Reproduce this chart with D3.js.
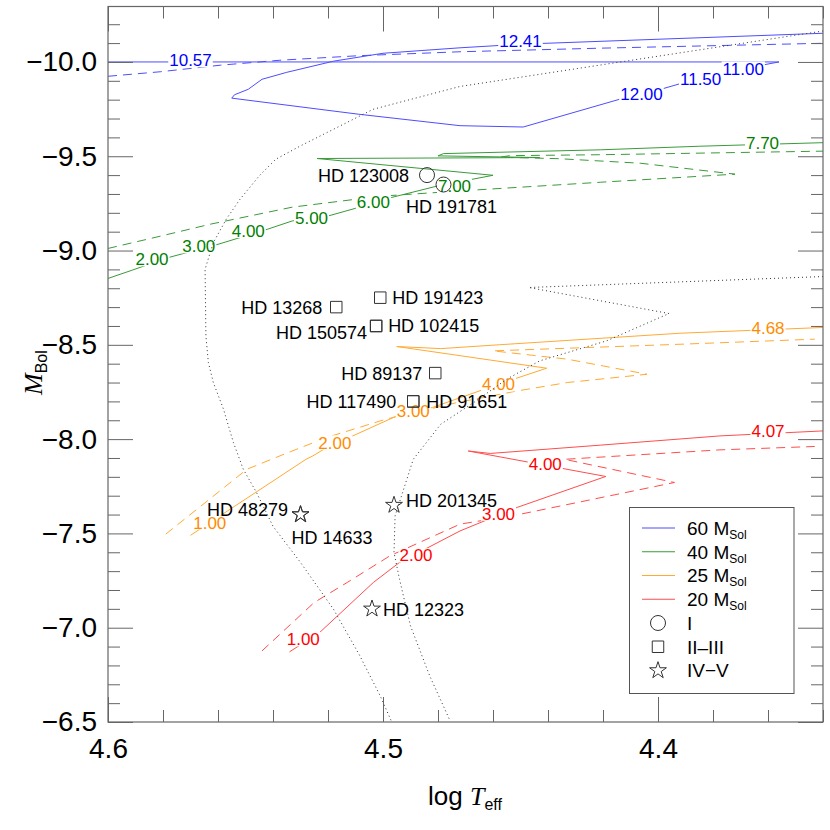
<!DOCTYPE html>
<html>
<head>
<meta charset="utf-8">
<script src="https://cdn.jsdelivr.net/npm/d3@7"></script>
<style>
body { margin: 0; background: #fff; }
svg { display: block; font-family: "Liberation Sans", Arial, Helvetica, sans-serif; }
</style>
</head>
<body>
<div id="main"></div>
<script>
// evolutionary tracks, [log Teff, M_Bol]
const t60solid = [[4.600,-10.000],[4.356,-10.000],[4.368,-9.967],[4.385,-9.914],[4.399,-9.855],[4.414,-9.802],
    [4.449,-9.655],[4.472,-9.662],[4.509,-9.723],[4.555,-9.808],[4.554,-9.826],[4.549,-9.855],[4.544,-9.908],
    [4.535,-9.945],[4.518,-10.004],[4.500,-10.046],[4.472,-10.075],[4.450,-10.094],[4.340,-10.152]];
const t60dashed = [[4.600,-9.924],[4.581,-9.948],[4.559,-9.983],[4.5375,-10.009],[4.509,-10.033],[4.472,-10.054],
    [4.421,-10.073],[4.340,-10.099]];
const t40solid = [[4.600,-8.852],[4.591,-8.897],[4.578,-8.963],[4.560,-9.033],[4.542,-9.113],[4.533,-9.157],
    [4.520,-9.183],[4.509,-9.228],[4.497,-9.281],[4.480,-9.343],[4.460,-9.399],[4.524,-9.488],[4.443,-9.493],
    [4.480,-9.502],[4.478,-9.514],[4.421,-9.534],[4.385,-9.553],[4.340,-9.572]];
const t40dashed = [[4.600,-9.011],[4.581,-9.076],[4.563,-9.139],[4.533,-9.230],[4.501,-9.288],[4.472,-9.316],
    [4.421,-9.362],[4.372,-9.405],[4.4065,-9.463],[4.436,-9.487],[4.4575,-9.495],[4.454,-9.503],[4.421,-9.508],
    [4.340,-9.527]];
const t25solid = [[4.570,-7.490],[4.528,-7.893],[4.5255,-7.911],[4.5175,-7.982],[4.511,-8.017],[4.495,-8.123],
    [4.482,-8.168],[4.458,-8.291],[4.4405,-8.376],[4.495,-8.491],[4.479,-8.480],[4.4575,-8.5005],[4.392,-8.5615],
    [4.340,-8.592]];
const t25dashed = [[4.579,-7.496],[4.5495,-7.840],[4.536,-7.920],[4.5205,-8.0085],[4.499,-8.1055],[4.473,-8.194],
    [4.451,-8.256],[4.433,-8.300],[4.404,-8.344],[4.433,-8.424],[4.460,-8.468],[4.392,-8.503],[4.343,-8.530]];
const t20solid = [[4.534,-6.872],[4.523,-6.975],[4.5035,-7.240],[4.494,-7.346],[4.472,-7.513],[4.451,-7.639],
    [4.419,-7.802],[4.469,-7.937],[4.461,-7.924],[4.421,-7.968],[4.3775,-8.017],[4.340,-8.0435]];
const t20dashed = [[4.544,-6.877],[4.525,-7.134],[4.513,-7.240],[4.4975,-7.381],[4.472,-7.549],[4.450,-7.602],
    [4.394,-7.770],[4.434,-7.893],[4.3775,-7.943],[4.343,-7.961]];

// age labels along the tracks (Myr)
const t60labels = [['10.57',4.570,-10.009],['12.41',4.450,-10.111],['12.00',4.406,-9.829],['11.50',4.3845,-9.912],['11.00',4.369,-9.965]];
const t40labels = [['2.00',4.584,-8.954],['3.00',4.567,-9.023],['4.00',4.549,-9.104],['5.00',4.526,-9.175],
    ['6.00',4.5035,-9.258],['7.00',4.474,-9.343],['7.70',4.362,-9.573]];
const t25labels = [['1.00',4.563,-7.558],['2.00',4.5175,-7.982],['3.00',4.489,-8.1495],['4.00',4.458,-8.291],['4.68',4.360,-8.588]];
const t20labels = [['1.00',4.529,-6.939],['2.00',4.488,-7.384],['3.00',4.458,-7.6045],['4.00',4.441,-7.867],['4.07',4.360,-8.042]];

// dotted boundaries
const dottedLeft = [[4.340,-10.164],[4.472,-9.870],[4.5036,-9.749],[4.518,-9.643],[4.530,-9.555],[4.539,-9.484],
    [4.545,-9.396],[4.552,-9.272],[4.557,-9.166],[4.5617,-9.042],[4.5647,-8.901],[4.5644,-8.547],[4.5635,-8.406],
    [4.5617,-8.300],[4.558,-8.1585],[4.5544,-7.982],[4.5508,-7.840],[4.546,-7.717],[4.540,-7.538],[4.530,-7.346],
    [4.518,-7.098],[4.5084,-6.8505],[4.501,-6.638],[4.497,-6.506]];
const dottedRight = [[4.340,-8.862],[4.447,-8.804],[4.396,-8.666],[4.4187,-8.521],[4.443,-8.415],[4.455,-8.318],
    [4.467,-8.194],[4.479,-8.079],[4.489,-7.893],[4.4956,-7.593],[4.496,-7.399],[4.494,-7.257],[4.490,-7.0095],
    [4.483,-6.744],[4.4756,-6.506]];

// observed stars
const starNames = ['HD 123008','HD 191781','HD 13268','HD 191423','HD 150574','HD 102415','HD 89137',
    'HD 117490','HD 91651','HD 48279','HD 14633','HD 201345','HD 12323'];
const starClass = ['I','I','II-III','II-III','II-III','II-III','II-III','II-III','II-III','IV-V','IV-V','IV-V','IV-V'];
const starLogT = [4.484,4.478,4.517,4.501,4.5025,4.5025,4.481,4.489,4.489,4.530,4.530,4.496,4.504];
const starMbol = [-9.40,-9.35,-8.70,-8.75,-8.60,-8.60,-8.35,-8.20,-8.20,-7.60,-7.60,-7.65,-7.10];

const xMajor = [4.6, 4.5, 4.4];
const yMajor = [-10.0, -9.5, -9.0, -8.5, -8.0, -7.5, -7.0, -6.5];

const masses = ['60', '40', '25', '20'];
const classes = ['I', 'II-III', 'IV-V'];
const classText = ['I', 'II\u2013III', 'IV\u2212V'];

const width = 830, height = 830;
const margin = { top: 6.5, left: 108, right: 7, bottom: 108 };

const svg = d3.select('#main').append('svg').attr('width', width).attr('height', height);

const x = d3.scaleLinear().domain([4.6, 4.34]).range([margin.left, width - margin.right]);
const y = d3.scaleLinear().domain([-6.5, -10.294]).range([height - margin.bottom, margin.top]);

const lineColor = { '60': '#4d4dff', '40': '#3a9a3a', '25': '#ffaa33', '20': '#ff4d4d' };
const textColor = { '60': '#0000ff', '40': '#008000', '25': '#ff8c00', '20': '#ff0000' };

const tracks = [
    { mass: '60', solid: t60solid, dashed: t60dashed, labels: t60labels },
    { mass: '40', solid: t40solid, dashed: t40dashed, labels: t40labels },
    { mass: '25', solid: t25solid, dashed: t25dashed, labels: t25labels },
    { mass: '20', solid: t20solid, dashed: t20dashed, labels: t20labels }
];

const line = d3.line().x(d => x(d[0])).y(d => y(d[1]));

svg.append('defs').append('clipPath').attr('id', 'plotclip')
    .append('rect')
    .attr('x', x(4.6)).attr('y', y(-10.294))
    .attr('width', x(4.34) - x(4.6)).attr('height', y(-6.5) - y(-10.294));

const plot = svg.append('g').attr('clip-path', 'url(#plotclip)');

// tracks
tracks.forEach(t => {
    plot.append('path').attr('d', line(t.solid))
        .attr('fill', 'none').attr('stroke', lineColor[t.mass]).attr('stroke-width', 1);
    plot.append('path').attr('d', line(t.dashed))
        .attr('fill', 'none').attr('stroke', lineColor[t.mass]).attr('stroke-width', 1)
        .attr('stroke-dasharray', '9,6');
});

// age labels, line broken under the text
const fsTrack = 17;
tracks.forEach(t => {
    t.labels.forEach(l => {
        const g = plot.append('g');
        const txt = g.append('text')
            .attr('x', x(l[1])).attr('y', y(l[2]))
            .attr('dy', '0.36em')
            .attr('text-anchor', 'middle')
            .style('font-size', fsTrack + 'px')
            .attr('fill', textColor[t.mass])
            .text(l[0]);
        const bb = txt.node().getBBox();
        g.insert('rect', 'text')
            .attr('x', bb.x - 1).attr('width', bb.width + 2)
            .attr('y', y(l[2]) - 0.42 * fsTrack).attr('height', 0.84 * fsTrack)
            .attr('fill', '#fff');
    });
});

// dotted lines
[dottedLeft, dottedRight].forEach(d => {
    plot.append('path').attr('d', line(d))
        .attr('fill', 'none').attr('stroke', '#333').attr('stroke-width', 1)
        .attr('stroke-dasharray', '1,3');
});

// markers
const symbolFor = { 'I': d3.symbolCircle, 'II-III': d3.symbolSquare, 'IV-V': d3.symbolStar };
const sizeFor = { 'I': 177, 'II-III': 132, 'IV-V': 88 };
function marker(cls) {
    return d3.symbol().type(symbolFor[cls]).size(sizeFor[cls])();
}

// label placement relative to the marker: dx, dy, anchor
const labelPlace = {
    'HD 123008': [-18, 0, 'end'],
    'HD 191781': [8, 21.5, 'middle'],
    'HD 13268': [-14, 0, 'end'],
    'HD 191423': [12, 0, 'start'],
    'HD 150574': [-9, 7, 'end'],
    'HD 102415': [12, 0, 'start'],
    'HD 89137': [-13, 0, 'end'],
    'HD 117490': [-17, 0, 'end'],
    'HD 91651': [13, 0, 'start'],
    'HD 48279': [-12.5, -5, 'end'],
    'HD 14633': [-9, 23, 'start'],
    'HD 201345': [12, -5, 'start'],
    'HD 12323': [11, 1, 'start']
};

const stars = starNames.map((n, i) => ({ name: n, cls: starClass[i], logT: starLogT[i], mbol: starMbol[i] }));

svg.append('g').selectAll('path')
    .data(stars)
    .enter()
    .append('path')
        .attr('d', d => marker(d.cls))
        .attr('transform', d => `translate(${x(d.logT)},${y(d.mbol)})`)
        .attr('fill', 'none')
        .attr('stroke', '#333')
        .attr('stroke-width', 1);

svg.append('g').selectAll('text')
    .data(stars)
    .enter()
    .append('text')
        .attr('x', d => x(d.logT) + labelPlace[d.name][0])
        .attr('y', d => y(d.mbol) + labelPlace[d.name][1])
        .attr('dy', '0.36em')
        .attr('text-anchor', d => labelPlace[d.name][2])
        .style('font-size', '18px')
        .attr('fill', '#000')
        .text(d => d.name);

// axes: major and minor ticks on all four sides
const axisG = svg.append('g');
function ticks(axisFn, scale, values, size, tx, ty, labelled, pad) {
    const a = axisFn(scale).tickValues(values).tickSizeInner(size).tickSizeOuter(0)
        .tickPadding(pad || 0);
    if (labelled) a.tickFormat(d3.format('.1f')); else a.tickFormat('');
    const g = axisG.append('g').attr('transform', `translate(${tx},${ty})`).call(a);
    g.select('.domain').remove();
    g.selectAll('line').attr('stroke', '#666');
    g.selectAll('text').style('font-size', '28px').attr('fill', '#000')
        .style('font-family', '"Liberation Sans", Arial, Helvetica, sans-serif');
    return g;
}
const xMinor = x.ticks(13).filter(v => !xMajor.some(m => Math.abs(m - v) < 1e-6));
const yMinor = y.ticks(40).filter(v => !yMajor.some(m => Math.abs(m - v) < 1e-6));
const bottom = height - margin.bottom, right = width - margin.right;

ticks(d3.axisBottom, x, xMajor, -25, 0, bottom, true, 16);
ticks(d3.axisBottom, x, xMinor, -12, 0, bottom, false);
ticks(d3.axisTop, x, xMajor, -25, 0, margin.top, false);
ticks(d3.axisTop, x, xMinor, -12, 0, margin.top, false);
ticks(d3.axisLeft, y, yMajor, -25, margin.left, 0, true, 11);
ticks(d3.axisLeft, y, yMinor, -12, margin.left, 0, false);
ticks(d3.axisRight, y, yMajor, -25, right, 0, false);
ticks(d3.axisRight, y, yMinor, -12, right, 0, false);

// bottom axis labels sit below the frame although ticks point inward
axisG.selectAll('text').filter(function () { return this.getAttribute('dy') === '0.71em'; })
    .attr('y', 16);

svg.append('rect')
    .attr('x', margin.left).attr('y', margin.top)
    .attr('width', right - margin.left).attr('height', bottom - margin.top)
    .attr('fill', 'none').attr('stroke', '#666').attr('stroke-width', 1.2);

// axis titles
const xt = svg.append('text').attr('x', 428).attr('y', 805).style('font-size', '26px');
xt.append('tspan').text('log ');
xt.append('tspan').style('font-family', '"Liberation Serif", "Times New Roman", serif')
    .style('font-style', 'italic').text('T');
xt.append('tspan').attr('dy', 5).style('font-size', '16px').text('eff');

const yt = svg.append('text').attr('transform', 'translate(42,395) rotate(-90)').style('font-size', '26px');
yt.append('tspan').style('font-family', '"Liberation Serif", "Times New Roman", serif')
    .style('font-style', 'italic').text('M');
yt.append('tspan').attr('dy', 5).style('font-size', '16px').text('Bol');

// legend
const lg = svg.append('g');
lg.append('rect')
    .attr('x', 629.5).attr('y', 507.5).attr('width', 164.5).attr('height', 186)
    .attr('fill', '#fff').attr('stroke', '#555').attr('stroke-width', 1);
const rowY = i => 528 + i * 23.75;
masses.forEach((m, i) => {
    lg.append('line')
        .attr('x1', 642).attr('x2', 675).attr('y1', rowY(i)).attr('y2', rowY(i))
        .attr('stroke', lineColor[m]).attr('stroke-width', 1);
    const t = lg.append('text').attr('x', 687).attr('y', rowY(i)).attr('dy', '0.36em')
        .style('font-size', '19px').attr('fill', '#000');
    t.append('tspan').text(m + ' M');
    t.append('tspan').attr('dy', 4).style('font-size', '12px').text('Sol');
});
classes.forEach((c, i) => {
    const ry = rowY(i + masses.length);
    lg.append('path').attr('d', marker(c))
        .attr('transform', `translate(658,${ry})`)
        .attr('fill', 'none').attr('stroke', '#333').attr('stroke-width', 1);
    lg.append('text').attr('x', 687).attr('y', ry).attr('dy', '0.36em')
        .style('font-size', '19px').attr('fill', '#000').text(classText[i]);
});
</script>
</body>
</html>
